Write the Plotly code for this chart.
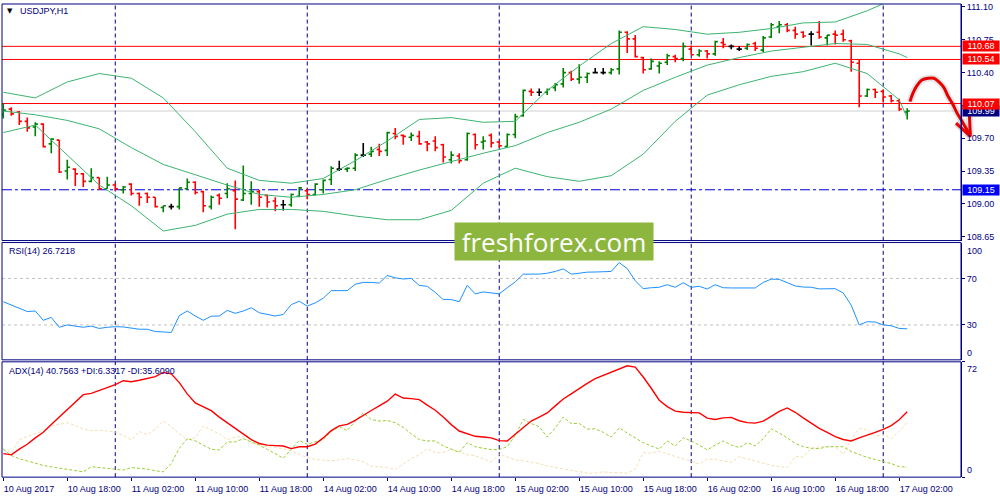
import plotly.graph_objects as go

# USDJPY H1, bar 0 = 10 Aug 2017 10:00, weekend hours skipped
bar_open = [109.95, 110.01, 109.98, 109.88, 109.82, 109.85, 109.64, 109.68, 109.35, 109.37,
            109.32, 109.24, 109.28, 109.16, 109.20, 109.15, 109.21, 109.11, 109.11, 109.07,
            108.96, 108.97, 108.97, 109.16, 109.23, 109.13, 108.97, 109.09, 109.11, 109.14,
            109.04, 109.11, 109.13, 109.09, 109.03, 108.99, 108.99, 109.08, 109.14, 109.10,
            109.15, 109.26, 109.37, 109.37, 109.38, 109.52, 109.53, 109.58, 109.57, 109.75,
            109.73, 109.71, 109.72, 109.66, 109.67, 109.63, 109.47, 109.51, 109.47, 109.74,
            109.66, 109.73, 109.66, 109.61, 109.74, 109.94, 110.20, 110.19, 110.19, 110.24,
            110.28, 110.40, 110.33, 110.35, 110.40, 110.40, 110.40, 110.44, 110.83, 110.76,
            110.56, 110.44, 110.47, 110.51, 110.57, 110.55, 110.65, 110.59, 110.63, 110.60,
            110.72, 110.68, 110.65, 110.66, 110.71, 110.64, 110.78, 110.89, 110.91, 110.85,
            110.83, 110.81, 110.83, 110.77, 110.81, 110.81, 110.74, 110.50, 110.15, 110.22,
            110.20, 110.15, 110.10, 109.98]
bar_high = [110.07, 110.03, 109.99, 109.92, 109.87, 109.86, 109.70, 109.68, 109.47, 109.38,
            109.33, 109.38, 109.28, 109.29, 109.22, 109.19, 109.22, 109.12, 109.12, 109.07,
            108.98, 109.00, 109.17, 109.27, 109.24, 109.14, 109.09, 109.11, 109.22, 109.25,
            109.41, 109.24, 109.15, 109.10, 109.07, 109.04, 109.11, 109.18, 109.16, 109.22,
            109.26, 109.40, 109.46, 109.39, 109.54, 109.65, 109.61, 109.64, 109.77, 109.81,
            109.74, 109.76, 109.78, 109.67, 109.72, 109.64, 109.56, 109.54, 109.76, 109.75,
            109.72, 109.75, 109.67, 109.75, 109.96, 110.22, 110.23, 110.23, 110.23, 110.29,
            110.45, 110.42, 110.49, 110.40, 110.45, 110.45, 110.45, 110.85, 110.84, 110.80,
            110.57, 110.55, 110.52, 110.60, 110.59, 110.72, 110.69, 110.65, 110.64, 110.74,
            110.77, 110.70, 110.68, 110.71, 110.73, 110.79, 110.93, 110.95, 110.93, 110.89,
            110.84, 110.84, 110.95, 110.80, 110.85, 110.86, 110.75, 110.54, 110.23, 110.23,
            110.22, 110.16, 110.12, 110.02]
bar_low = [109.91, 109.94, 109.84, 109.77, 109.72, 109.60, 109.54, 109.33, 109.26, 109.19,
           109.18, 109.23, 109.15, 109.16, 109.14, 109.11, 109.09, 108.98, 109.01, 108.96,
           108.91, 108.94, 108.94, 109.15, 109.10, 108.91, 108.94, 108.99, 109.06, 108.73,
           109.03, 108.99, 108.97, 108.96, 108.92, 108.93, 108.97, 109.07, 109.05, 109.09,
           109.11, 109.20, 109.35, 109.34, 109.35, 109.50, 109.50, 109.51, 109.51, 109.69,
           109.63, 109.67, 109.63, 109.56, 109.56, 109.44, 109.43, 109.43, 109.46, 109.58,
           109.58, 109.60, 109.60, 109.61, 109.70, 109.93, 110.15, 110.15, 110.16, 110.20,
           110.24, 110.31, 110.28, 110.29, 110.39, 110.38, 110.38, 110.38, 110.61, 110.56,
           110.39, 110.43, 110.39, 110.48, 110.51, 110.52, 110.59, 110.57, 110.55, 110.58,
           110.66, 110.65, 110.63, 110.64, 110.63, 110.62, 110.77, 110.82, 110.83, 110.76,
           110.77, 110.69, 110.76, 110.69, 110.70, 110.73, 110.41, 110.03, 110.14, 110.13,
           110.08, 110.08, 109.99, 109.90]
bar_close = [110.00, 109.96, 109.88, 109.81, 109.85, 109.61, 109.69, 109.34, 109.39, 109.32,
             109.24, 109.28, 109.16, 109.20, 109.16, 109.18, 109.11, 109.07, 109.07, 108.97,
             108.98, 108.97, 109.17, 109.23, 109.12, 108.98, 109.07, 109.06, 109.16, 109.05,
             109.11, 109.13, 109.07, 109.02, 108.98, 108.99, 109.10, 109.17, 109.10, 109.21,
             109.25, 109.38, 109.37, 109.38, 109.52, 109.52, 109.56, 109.56, 109.76, 109.72,
             109.72, 109.73, 109.64, 109.64, 109.60, 109.50, 109.52, 109.46, 109.75, 109.63,
             109.67, 109.65, 109.62, 109.74, 109.93, 110.21, 110.19, 110.19, 110.22, 110.27,
             110.40, 110.33, 110.35, 110.39, 110.40, 110.40, 110.43, 110.83, 110.76, 110.57,
             110.43, 110.52, 110.50, 110.58, 110.55, 110.68, 110.59, 110.63, 110.60, 110.73,
             110.70, 110.68, 110.65, 110.70, 110.66, 110.77, 110.91, 110.91, 110.85, 110.81,
             110.79, 110.81, 110.78, 110.80, 110.80, 110.75, 110.51, 110.15, 110.22, 110.19,
             110.14, 110.10, 110.01, 109.99]

# Bollinger bands, read every 4 bars
band_idx = [0, 4, 8, 12, 16, 20, 24, 28, 32, 36, 40, 44, 48, 52, 56, 60, 64, 68, 72, 76,
            80, 84, 88, 92, 96, 100, 104, 108, 112, 113]
bb_upper = [110.19, 110.13, 110.30, 110.39, 110.34, 110.13, 109.77, 109.38, 109.25, 109.22,
            109.27, 109.46, 109.67, 109.90, 109.92, 109.87, 109.88, 110.21, 110.47, 110.71,
            110.89, 110.86, 110.81, 110.83, 110.87, 110.93, 110.94, 111.06, 111.21, 111.24]
bb_middle = [109.99, 109.95, 109.89, 109.80, 109.60, 109.42, 109.31, 109.20, 109.10, 109.07,
             109.10, 109.15, 109.26, 109.36, 109.45, 109.54, 109.62, 109.76, 109.87, 110.01,
             110.21, 110.35, 110.48, 110.56, 110.63, 110.67, 110.71, 110.70, 110.60, 110.56]
bb_lower = [109.76, 109.84, 109.52, 109.20, 108.98, 108.71, 108.77, 108.89, 108.94, 108.94,
            108.92, 108.87, 108.83, 108.83, 108.93, 109.22, 109.38, 109.29, 109.24, 109.30,
            109.53, 109.88, 110.16, 110.27, 110.36, 110.41, 110.50, 110.39, 110.11, 109.92]

rsi_14 = [50, 47, 44.5, 41.5, 42, 34, 36.5, 28, 30, 29,
          28, 29, 27, 28, 28.5, 28.3, 27, 26.3, 26.3, 24.3,
          24, 23.5, 38, 42, 37.7, 34, 37.5, 37.7, 42.5, 40,
          42, 44.8, 40.5, 39, 37.7, 39, 47.5, 50.4, 46.2, 49,
          53, 59.5, 59.5, 59.5, 65, 66.6, 66.6, 66, 72.6, 70.5,
          69.5, 70, 64, 63.2, 58, 51.8, 51.8, 50, 64.1, 56.7,
          58.4, 57.5, 56.7, 62, 67, 73.7, 73.7, 73.7, 74.5, 76,
          78.2, 73.7, 74.5, 75.4, 75.5, 75.7, 76, 83.6, 78.5, 68,
          61.2, 62, 62.4, 64.6, 62.4, 66.3, 62.4, 63.2, 60.9, 64.6,
          62, 61.8, 61.8, 61.8, 61.8, 66.6, 69.4, 69.2, 66, 63.5,
          62.6, 62.4, 61, 61.2, 61.2, 57.5, 47, 30, 32.8, 32.5,
          30, 29.3, 27, 26.7]

adx_14 = [14.7, 13.9, 17.5, 20.5, 24.5, 28, 32.8, 37.5, 42.2, 47,
          51.5, 52.3, 54, 56, 57.7, 60.2, 59.6, 60.5, 61.5, 62.8,
          65.4, 64.5, 59, 52, 46.3, 44, 41.5, 37.5, 34, 30.5,
          26.8, 23.4, 21, 20, 19.7, 19.4, 17.8, 19, 19, 20.6,
          24.5, 29, 32, 32.9, 35.5, 38.7, 41.6, 44.5, 47.4, 51.9,
          49.4, 49, 48.4, 45, 41.8, 37.5, 32.8, 28.8, 27, 25.5,
          25.1, 24.5, 22.8, 22.6, 26.8, 31, 35, 37.5, 40.1, 44.5,
          48.8, 52, 55.5, 58.5, 61.5, 63.5, 65.2, 67.5, 69.5, 68.7,
          62.5, 55.5, 48, 44, 41.2, 40.5, 40.1, 40.1, 36.8, 36,
          37, 37.3, 35.2, 34, 33.7, 35, 38, 41, 43.2, 40.5,
          37, 33.5, 30.5, 28, 25.3, 23.5, 22.6, 24.5, 26.1, 28,
          29.8, 32.2, 35.8, 40.8]
plus_di = [17.4, 13.5, 11.5, 10, 8.5, 7.3, 6.4, 5.7, 5, 4.2,
           3.3, 6.5, 6, 5.5, 5, 4.4, 6, 5.5, 5, 4,
           3.3, 8.5, 18, 24, 22.6, 20, 17.4, 17, 22, 22,
           24, 22, 20, 17.4, 14.5, 11.8, 17.4, 23, 20.5, 21.9,
           23.6, 28.5, 31.5, 29, 35, 40.1, 36, 35, 35.4, 34,
           31, 27, 23.5, 22.6, 22.6, 19.5, 17.5, 15.5, 21.5, 19,
           18, 17.2, 17.2, 19, 26, 36, 33.5, 31.5, 25, 30.8,
           37.5, 33.5, 33.5, 30, 30.2, 28, 25, 30.8, 27.5, 24.5,
           21.5, 19.5, 17.5, 22.6, 19.4, 24.6, 22.6, 20, 17, 20,
           22.6, 20, 18.5, 21.5, 19.5, 24, 30.2, 27.5, 24.6, 21,
           19, 18, 17.8, 19, 19, 19, 16, 14, 12.3, 11,
           9.8, 8.5, 6.5, 6.3]
minus_di = [17.8, 15, 23.5, 25.5, 27.5, 29, 32, 33, 33.9, 32.3,
            30, 29, 29.4, 28.8, 28.1, 26, 23.3, 28.5, 26.5, 30,
            35, 31.5, 27, 23.6, 24.6, 31.9, 29.5, 27, 23.5, 25,
            25.5, 21, 20.5, 19, 18.5, 17.8, 16.5, 14, 12.3, 11,
            10.6, 10.2, 10.8, 11.6, 10.8, 9.5, 6.8, 6.4, 6, 4.8,
            8, 11.5, 14, 17.8, 15.2, 15.5, 17.4, 15.5, 14, 13.4,
            11.5, 9.5, 14.3, 12.5, 10.8, 10.2, 9.3, 8.5, 7, 6,
            5, 4.2, 3.5, 2.5, 2.5, 3.3, 2.9, 2.7, 2.5, 5,
            15.3, 15, 16.2, 14.5, 13, 11.5, 10.1, 8.3, 11.2, 11.2,
            10, 9.3, 12.8, 11.5, 10, 8.5, 7.4, 6.6, 6, 13,
            12.5, 18, 19, 19, 19, 14.3, 23.6, 30.5, 29.4, 25.5,
            26.5, 24, 28.5, 34]

rsi_last = 26.7218
adx_last = 40.7563
plus_di_last = 6.3317
minus_di_last = 35.6090

date_tick_idx = [0, 8, 16, 24, 32, 40, 48, 56, 64, 72, 80, 88, 96, 104, 112]
date_tick_text = ['10 Aug 2017', '10 Aug 18:00', '11 Aug 02:00', '11 Aug 10:00', '11 Aug 18:00',
                  '14 Aug 02:00', '14 Aug 10:00', '14 Aug 18:00', '15 Aug 02:00', '15 Aug 10:00',
                  '15 Aug 18:00', '16 Aug 02:00', '16 Aug 10:00', '16 Aug 18:00', '17 Aug 02:00']
day_start_idx = [14, 38, 62, 86, 110]

resistance_levels = [110.68, 110.54, 110.07]
bid_level = 109.99
support_level = 109.15

# hand drawn forecast arrow (bar position, price)
sketch_bar = [113.34, 113.72, 114.22, 114.84, 115.59, 116.34, 116.96, 117.59, 118.09, 118.72,
              119.22, 119.72, 120.34, 120.84]
sketch_price = [110.09, 110.18, 110.26, 110.32, 110.34, 110.34, 110.30, 110.24, 110.15, 110.06,
                109.97, 109.90, 109.81, 109.73]
sketch_head_bar = [119.1, 120.9, 120.75]
sketch_head_price = [109.86, 109.72, 109.99]

NAVY = '#000080'
GREEN = '#008000'
BAND = '#3cb371'
x_range = [-0.16, 124.6]
main_dom = [0.52, 0.996]
rsi_dom = [0.28, 0.516]
adx_dom = [0.044, 0.276]
right_edge = 0.961

bars = list(range(len(bar_close)))
rising = [i for i in bars if bar_close[i] > bar_open[i]]
falling = [i for i in bars if bar_close[i] < bar_open[i]]
flat = [i for i in bars if bar_close[i] == bar_open[i]]

fig = go.Figure()


def add_bars(idx, color):
    fig.add_trace(go.Ohlc(
        x=idx,
        open=[bar_open[i] for i in idx],
        high=[bar_high[i] for i in idx],
        low=[bar_low[i] for i in idx],
        close=[bar_close[i] for i in idx],
        increasing=dict(line=dict(color=color, width=1.6)),
        decreasing=dict(line=dict(color=color, width=1.6)),
        tickwidth=0.33, hoverinfo='skip', showlegend=False,
        xaxis='x', yaxis='y'))


for band in [bb_upper, bb_middle, bb_lower]:
    fig.add_trace(go.Scatter(x=band_idx, y=band, mode='lines', line=dict(color=BAND, width=1),
                             hoverinfo='skip', xaxis='x', yaxis='y'))

add_bars(rising, GREEN)
add_bars(falling, 'red')
add_bars(flat, 'black')

# forecast sketch
for w, c in [(7, 'rgba(0,0,0,0.10)'), (3, '#e60000')]:
    fig.add_trace(go.Scatter(x=sketch_bar, y=sketch_price, mode='lines',
                             line=dict(color=c, width=w, shape='spline'), hoverinfo='skip',
                             xaxis='x', yaxis='y'))
    fig.add_trace(go.Scatter(x=sketch_head_bar, y=sketch_head_price, mode='lines',
                             line=dict(color=c, width=w), hoverinfo='skip',
                             xaxis='x', yaxis='y'))

fig.add_trace(go.Scatter(x=bars, y=rsi_14, mode='lines', line=dict(color='#1e90ff', width=1),
                         hoverinfo='skip', xaxis='x2', yaxis='y2'))

fig.add_trace(go.Scatter(x=bars, y=minus_di, mode='lines',
                         line=dict(color='#f5deb3', width=1, dash='3px,2px'),
                         hoverinfo='skip', xaxis='x3', yaxis='y3'))
fig.add_trace(go.Scatter(x=bars, y=plus_di, mode='lines',
                         line=dict(color='#9acd32', width=1, dash='3px,2px'),
                         hoverinfo='skip', xaxis='x3', yaxis='y3'))
fig.add_trace(go.Scatter(x=bars, y=adx_14, mode='lines', line=dict(color='red', width=1.4),
                         hoverinfo='skip', xaxis='x3', yaxis='y3'))

shapes = []
# level lines
for lvl in resistance_levels:
    shapes.append(dict(type='line', xref='paper', yref='y', x0=0.002, x1=right_edge, y0=lvl, y1=lvl,
                       line=dict(color='red', width=1), layer='below'))
shapes.append(dict(type='line', xref='paper', yref='y', x0=0.002, x1=right_edge, y0=bid_level, y1=bid_level,
                   line=dict(color='#d0d0d0', width=1), layer='below'))
shapes.append(dict(type='line', xref='paper', yref='y', x0=0.002, x1=right_edge, y0=support_level,
                   y1=support_level, line=dict(color='#0000dd', width=1, dash='10px,3px,3px,3px'),
                   layer='below'))
for lvl in [30, 70]:
    shapes.append(dict(type='line', xref='paper', yref='y2', x0=0.002, x1=right_edge, y0=lvl, y1=lvl,
                       line=dict(color='#c0c0c0', width=1, dash='3px,3px'), layer='below'))
# day separators
for xr, yr in [('x', 'y domain'), ('x2', 'y2 domain'), ('x3', 'y3 domain')]:
    for d in day_start_idx:
        shapes.append(dict(type='line', xref=xr, yref=yr, x0=d, x1=d, y0=0, y1=1,
                           line=dict(color=NAVY, width=1, dash='4px,3px'), layer='below'))
# panel frames
for dom in [main_dom, rsi_dom, adx_dom]:
    shapes.append(dict(type='rect', xref='paper', yref='paper', x0=0.002, x1=right_edge,
                       y0=dom[0], y1=dom[1], line=dict(color=NAVY, width=1)))

annotations = []


def price_box(price, bg):
    annotations.append(dict(xref='paper', yref='y', x=0.962, y=price, xanchor='left', yanchor='middle',
                            text='%.2f' % price, showarrow=False, bgcolor=bg, width=36, borderpad=0,
                            font=dict(color='white', size=9)))


price_box(support_level, '#0000ff')
price_box(bid_level, NAVY)
for lvl in resistance_levels:
    price_box(lvl, 'red')

for txt, yref, val, anchor in [('100', 'y2', 100, 'top'), ('0', 'y2', 0, 'bottom'),
                               ('72', 'y3', 72, 'top'), ('0', 'y3', 0, 'bottom')]:
    annotations.append(dict(xref='paper', yref=yref, x=0.965, y=val, xanchor='left', yanchor=anchor,
                            text=txt, showarrow=False, font=dict(color=NAVY, size=9)))

annotations += [
    dict(xref='paper', yref='paper', x=0.005, y=0.981, xanchor='left', yanchor='middle', text='▼',
         showarrow=False, font=dict(family='DejaVu Sans', size=7, color='black')),
    dict(xref='paper', yref='paper', x=0.018, y=0.981, xanchor='left', yanchor='middle', text='USDJPY,H1',
         showarrow=False, font=dict(color=NAVY, size=9)),
    dict(xref='paper', yref='paper', x=0.007, y=0.5, xanchor='left', yanchor='middle',
         text='RSI(14) %.4f' % rsi_last, showarrow=False, font=dict(color=NAVY, size=9)),
    dict(xref='paper', yref='paper', x=0.007, y=0.257, xanchor='left', yanchor='middle',
         text='ADX(14) %.4f +DI:%.4f -DI:%.4f' % (adx_last, plus_di_last, minus_di_last),
         showarrow=False, font=dict(color=NAVY, size=9)),
    dict(xref='paper', yref='paper', x=0.554, y=0.519, xanchor='center', yanchor='middle',
         text='freshforex.com', showarrow=False, bgcolor='#8db63f', width=198, height=37, borderpad=0,
         font=dict(family='Open Sans', size=26, color='white')),
]

hidden_x = dict(domain=[0.002, 1], range=x_range, showticklabels=False, showgrid=False,
                zeroline=False, ticks='', fixedrange=True)
y_common = dict(anchor='free', position=right_edge, side='right', showgrid=False, zeroline=False,
                showline=True, linecolor=NAVY, linewidth=1, ticks='outside', ticklen=3,
                tickcolor=NAVY, tickfont=dict(color=NAVY, size=9))

fig.update_layout(
    width=1000, height=500, margin=dict(l=0, r=0, t=0, b=0),
    paper_bgcolor='white', plot_bgcolor='white', showlegend=False, hovermode=False,
    font=dict(family='Liberation Sans, Arial, sans-serif', size=9, color=NAVY),
    xaxis=dict(hidden_x, anchor='y', rangeslider=dict(visible=False)),
    xaxis2=dict(hidden_x, anchor='y2'),
    xaxis3=dict(hidden_x, anchor='y3', showticklabels=True, tickvals=date_tick_idx,
                ticktext=date_tick_text, ticks='outside', ticklen=3, tickcolor=NAVY,
                ticklabelposition='outside right', ticklabelstandoff=3,
                tickfont=dict(color=NAVY, size=9)),
    yaxis=dict(y_common, domain=main_dom, range=[108.608, 111.132], tick0=108.65, dtick=0.35,
               tickformat='.2f'),
    yaxis2=dict(y_common, domain=rsi_dom, range=[0, 100.85], tickvals=[30, 70]),
    yaxis3=dict(y_common, domain=adx_dom, range=[0, 72], tickvals=[0, 72], showticklabels=False),
    shapes=shapes,
    annotations=annotations,
)

# the page body has a default 8px margin; drop it so the figure fills the window
fig.write_html("out.html", config={'displayModeBar': False},
               post_script="document.body.style.margin = '0px';")
